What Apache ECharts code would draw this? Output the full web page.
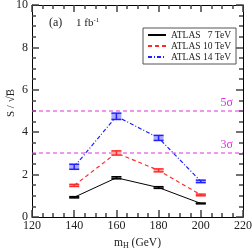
<!DOCTYPE html>
<html><head><meta charset="utf-8">
<script src="https://cdn.jsdelivr.net/npm/echarts@6/dist/echarts.min.js"></script>
<style>html,body{margin:0;padding:0;background:#fff}#c{width:252px;height:248px}</style>
</head><body><div id="c"></div>
<script>
const masses = [140, 160, 180, 200];
const s7 = [0.93, 1.85, 1.39, 0.64];
const e7 = [0.03, 0.05, 0.04, 0.02];
const s10 = [1.49, 3.02, 2.2, 1.04];
const e10 = [0.05, 0.1, 0.07, 0.04];
const s14 = [2.37, 4.75, 3.73, 1.68];
const e14 = [0.12, 0.15, 0.12, 0.06];
const names = ['ATLAS   7 TeV', 'ATLAS 10 TeV', 'ATLAS 14 TeV'];
const sigmaLevels = [5, 3];
const sigmaLabels = ['5σ', '3σ'];
const xRange = [120, 220];

const FONT = 'Liberation Serif';
const chart = echarts.init(document.getElementById('c'), null, {renderer: 'canvas'});

function pairs(v) { return masses.map((m, i) => [m, v[i]]); }
function errData(v, e) { return masses.map((m, i) => [m, v[i] - e[i], v[i] + e[i]]); }
function errSeries(v, e, color, fill) {
  return {
    type: 'custom', xAxisIndex: 0, yAxisIndex: 0, z: 5,
    data: errData(v, e),
    renderItem: function (params, api) {
      const x = api.value(0);
      const lo = api.coord([x, api.value(1)]);
      const hi = api.coord([x, api.value(2)]);
      const hw = 5;
      return {
        type: 'group', children: [
          {type: 'rect', shape: {x: lo[0] - hw, y: hi[1], width: 2 * hw, height: Math.max(lo[1] - hi[1], 1)}, style: {fill: fill}},
          {type: 'line', shape: {x1: lo[0], y1: lo[1], x2: hi[0], y2: hi[1]}, style: {stroke: color, lineWidth: 1.5}},
          {type: 'line', shape: {x1: lo[0] - hw, y1: lo[1], x2: lo[0] + hw, y2: lo[1]}, style: {stroke: color, lineWidth: 1.5}},
          {type: 'line', shape: {x1: hi[0] - hw, y1: hi[1], x2: hi[0] + hw, y2: hi[1]}, style: {stroke: color, lineWidth: 1.5}}
        ]
      };
    }
  };
}

const black = '#000000', red = '#ff2a2a', blue = '#2020ff', mag = '#e030e0';
const tickStyle = {color: '#444', width: 1.5};

function axisCommon(extra) {
  return Object.assign({
    axisLine: {show: true, onZero: false, lineStyle: {color: '#000', width: 1}},
    axisTick: {show: true, inside: true, length: 7, lineStyle: tickStyle},
    minorTick: {show: true, splitNumber: 4, length: 4, lineStyle: tickStyle},
    splitLine: {show: false}
  }, extra);
}

chart.setOption({
  animation: false,
  grid: {left: 32, right: 9, top: 5, bottom: 31, outerBoundsMode: 'none', containLabel: false},
  legend: {
    show: true, left: 143, top: 28, orient: 'vertical', itemGap: 1,
    itemWidth: 18, itemHeight: 8,
    backgroundColor: '#fff', borderColor: '#555', borderWidth: 1, padding: [2, 5, 2, 4],
    borderRadius: 0,
    itemStyle: {opacity: 0},
    textStyle: {fontFamily: FONT, fontSize: 9.5, color: '#222'},
    data: names
  },
  xAxis: [
    axisCommon({type: 'value', min: 120, max: 220, interval: 20, position: 'bottom',
     axisLabel: {fontFamily: FONT, fontSize: 12, color: '#222', margin: 3},
     name: 'm{sub|H} (GeV)', nameLocation: 'middle', nameGap: 16,
     nameTextStyle: {fontFamily: FONT, fontSize: 11.5, color: '#222', rich: {sub: {fontFamily: FONT, fontSize: 8, verticalAlign: 'bottom', padding: [6, 0, 0, 0], color: '#222'}}}}),
    axisCommon({type: 'value', min: 120, max: 220, interval: 20, position: 'top',
     axisLabel: {show: false}})
  ],
  yAxis: [
    axisCommon({type: 'value', min: 0, max: 10, interval: 2, position: 'left',
     axisLabel: {fontFamily: FONT, fontSize: 12, color: '#222', margin: 4}}),
    axisCommon({type: 'value', min: 0, max: 10, interval: 2, position: 'right',
     axisLabel: {show: false}})
  ],
  series: [
    {type: 'custom', z: 2, silent: true,
     data: sigmaLevels.map((v, i) => [v, i]),
     renderItem: function (params, api) {
       const v = api.value(0);
       const i = api.value(1);
       const a = api.coord([xRange[0], v]);
       const b = api.coord([xRange[1], v]);
       const y = Math.round(a[1]);
       return {type: 'group', children: [
         {type: 'line', shape: {x1: a[0], y1: y, x2: b[0], y2: y},
          style: {stroke: mag, lineWidth: 1, lineDash: [4, 3]}},
         {type: 'text', x: b[0] - 10, y: y - 2,
          style: {text: sigmaLabels[i], fontFamily: FONT, fontSize: 12, fill: mag, align: 'right', verticalAlign: 'bottom'}}
       ]};
     }},
    {name: names[0], type: 'line', data: pairs(s7), symbol: 'none', color: black,
     lineStyle: {color: black, width: 1}, z: 3},
    {name: names[1], type: 'line', data: pairs(s10), symbol: 'none', color: red,
     lineStyle: {color: red, width: 1.2, type: [4, 3]}, z: 3},
    {name: names[2], type: 'line', data: pairs(s14), symbol: 'none', color: blue,
     lineStyle: {color: blue, width: 1.2, type: [4, 2, 1, 2]}, z: 3},
    errSeries(s7, e7, black, '#888'),
    errSeries(s10, e10, red, '#ffaaaa'),
    errSeries(s14, e14, blue, '#aaaaff')
  ],
  graphic: [
    {type: 'text', x: 6, y: 117, rotation: Math.PI / 2,
     style: {text: 'S / √B\u0305', fontFamily: FONT, fontSize: 11, fill: '#222'}},
    {type: 'text', left: 49, top: 17, style: {text: '(a)', fontFamily: FONT, fontSize: 12, fill: '#222'}},
    {type: 'text', left: 76, top: 17, style: {text: '1 fb{sup|-1}', fontFamily: FONT, fontSize: 11, fill: '#222',
      rich: {sup: {fontFamily: FONT, fontSize: 7, verticalAlign: 'top', padding: [0, 0, 6, 0], fill: '#222'}}}}
  ]
});
</script></body></html>
